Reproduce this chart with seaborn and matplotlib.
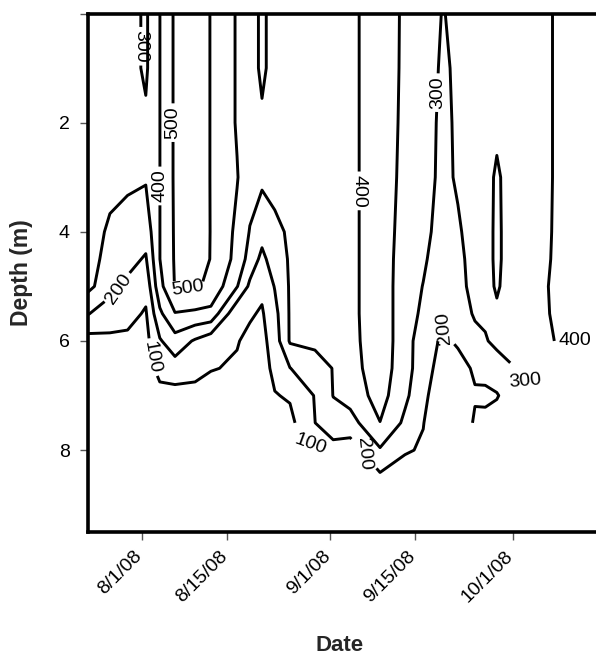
import numpy as np
import matplotlib
matplotlib.use("Agg")
import matplotlib.pyplot as plt
import matplotlib.transforms as mtransforms
import seaborn as sns

N = np.nan

# sampling dates (day of year, 2008) and depths (m)
sample_doy = [205.2, 208.8, 211.7, 214.7, 217.0, 219.5, 222.8, 225.4, 229.7, 231.8,
              233.8, 235.9, 238.4, 242.5, 245.5, 248.3, 253.2, 257.3, 260.3, 263.6,
              266.0, 268.8, 270.5, 272.4, 274.6, 279.5, 283.6, 291.0]
depths = [0, 1, 2, 3, 4, 4.5, 5, 5.5, 6, 6.5, 7, 7.5, 8, 8.5, 9, 9.5]

# measured values at each depth (one row per depth, one value per date)
z_00 = [350,345,340,285,399,515,560,496,392,360,275,350,350,350,355,370,470,380,345,295,332,345,350,350,350,360,440,460]
z_10 = [350,345,340,285,399,515,560,496,392,360,275,350,350,350,355,370,470,378,340,287,315,345,350,350,350,360,440,460]
z_20 = [350,345,340,315,399,515,560,496,392,360,320,350,350,350,355,370,470,373,335,281,313,345,350,330,350,360,440,460]
z_30 = [350,330,320,310,399,515,560,496,405,340,320,330,340,345,340,370,470,365,330,280,310,340,350,280,350,360,440,460]
z_40 = [345,285,260,240,399,512,555,497,380,295,235,280,312,330,330,370,470,350,320,270,290,335,350,275,350,365,440,460]
z_45 = [335,270,230,190,399,510,540,497,370,260,175,250,310,328,325,370,470,340,310,260,280,330,350,275,350,370,440,460]
z_50 = [325,240,180,130,370,505,513,480,305,180,120,205,310,325,320,370,470,335,298,245,270,330,345,285,350,380,440,460]
z_55 = [205,140,130,90,280,395,381,370,117,110,90,170,310,322,315,370,470,335,286,215,250,311,320,320,345,375,440,460]
z_60 = [61,83,80,70,190,259,188,137,105,80,70,150,310,320,310,365,470,335,256,180,215,270,290,330,340,360,430,460]
z_65 = [50,55,55,55,130,155,140,105,90,60,60,125,198,260,303,355,465,330,258,140,160,215,225,240,290,N,N,N]
z_70 = [45,45,45,45,70,63,60,60,60,50,50,95,110,205,302,340,440,320,230,110,130,190,185,195,230,N,N,N]
z_75 = [40,40,40,40,50,50,50,50,50,45,45,70,75,199,265,260,398,280,203,120,110,215,220,230,240,N,N,N]
z_80 = [40,40,40,40,45,45,45,45,45,40,40,55,N,150,160,150,290,210,190,150,N,N,N,N,N,N,N,N]
z_85 = [40,40,40,40,40,40,40,40,40,40,40,45,N,N,N,120,180,150,150,N,N,N,N,N,N,N,N,N]
z_90 = [40,40,40,40,40,40,40,40,40,40,40,40,N,N,N,N,N,N,N,N,N,N,N,N,N,N,N,N]
z_95 = [40,40,40,40,40,40,40,40,40,40,40,40,N,N,N,N,N,N,N,N,N,N,N,N,N,N,N,N]

levels = [100, 200, 300, 400, 500]
tick_doy = [214, 228, 245, 259, 275]
tick_labels = ["8/1/08", "8/15/08", "9/1/08", "9/15/08", "10/1/08"]
depth_ticks = [0, 2, 4, 6, 8]
depth_tick_labels = ["", "2", "4", "6", "8"]

# inline contour labels: anchor (doy, depth) and text angle
label_x = [213.9, 219.15, 217.0, 210.76, 221.6, 215.8, 249.74, 262.57, 263.9, 250.2]
label_y = [0.6, 2.0, 3.16, 5.1, 5.05, 6.3, 3.25, 1.45, 5.75, 8.1]
label_rot = [-90, 90, 90, 55, 8, -80, -90, 90, 95, -85]

# labels sitting just past the ends of lines: anchor on line, drawn at (x, y)
end_anchor_x = [274.6, 282.0, 239.4]
end_anchor_y = [6.38, 5.95, 7.45]
end_text_x = [277.0, 285.3, 241.7]
end_text_y = [6.73, 6.0, 7.89]
end_rot = [5, 0, -20]

sns.set_theme(style="white")
plt.rcParams["font.family"] = ["Liberation Sans", "DejaVu Sans"]

Z = np.ma.masked_invalid(np.array([z_00, z_10, z_20, z_30, z_40, z_45, z_50, z_55,
                                    z_60, z_65, z_70, z_75, z_80, z_85, z_90, z_95], dtype=float))

fig = plt.figure(figsize=(5.96, 6.56), dpi=100)
ax = fig.add_axes([88 / 596, 124 / 656, 522 / 596, 518.5 / 656])

cs = ax.contour(sample_doy, depths, Z, levels=levels, colors="black",
                linewidths=2.1, corner_mask=False)
ax.set_xlim(205.2, 291.0)
ax.set_ylim(9.5, 0)

inline_txt = ax.clabel(cs, fmt="%d", fontsize=14, inline=True, inline_spacing=3,
                       manual=list(zip(label_x, label_y)))
for t, r in zip(inline_txt, label_rot):
    t.set_rotation(r)

end_txt = ax.clabel(cs, fmt="%d", fontsize=14, inline=False,
                    manual=list(zip(end_anchor_x, end_anchor_y)))
end_txt = end_txt[len(inline_txt):] if len(end_txt) > len(end_anchor_x) else end_txt
for t, x, y, r in zip(end_txt, end_text_x, end_text_y, end_rot):
    t.set_position((x, y))
    t.set_rotation(r)

ax.set_xticks(tick_doy)
ax.set_xticklabels(tick_labels, rotation=45, ha="right", fontsize=14)
ax.set_yticks(depth_ticks)
ax.set_yticklabels(depth_tick_labels, fontsize=14)
ax.tick_params(axis="both", which="major", direction="out", length=6, width=1,
               color="#555555", labelcolor="black", left=True, bottom=True)
ax.tick_params(axis="y", pad=7)
ax.tick_params(axis="x", pad=4)
shift = mtransforms.ScaledTranslation(4 / 100, -2 / 100, fig.dpi_scale_trans)
for lbl in ax.get_xticklabels():
    lbl.set_transform(lbl.get_transform() + shift)

for s in ax.spines.values():
    s.set_linewidth(2.6)
    s.set_color("black")

ax.set_xlabel("Date", fontsize=16, fontweight="bold")
ax.set_ylabel("Depth (m)", fontsize=16.5, fontweight="bold")
ax.xaxis.set_label_coords((340 - 88) / 522, -(635 - 532) / 518.5)
ax.yaxis.set_label_coords(-(88 - 33) / 522, 0.5)

fig.savefig("out.png", dpi=100)
